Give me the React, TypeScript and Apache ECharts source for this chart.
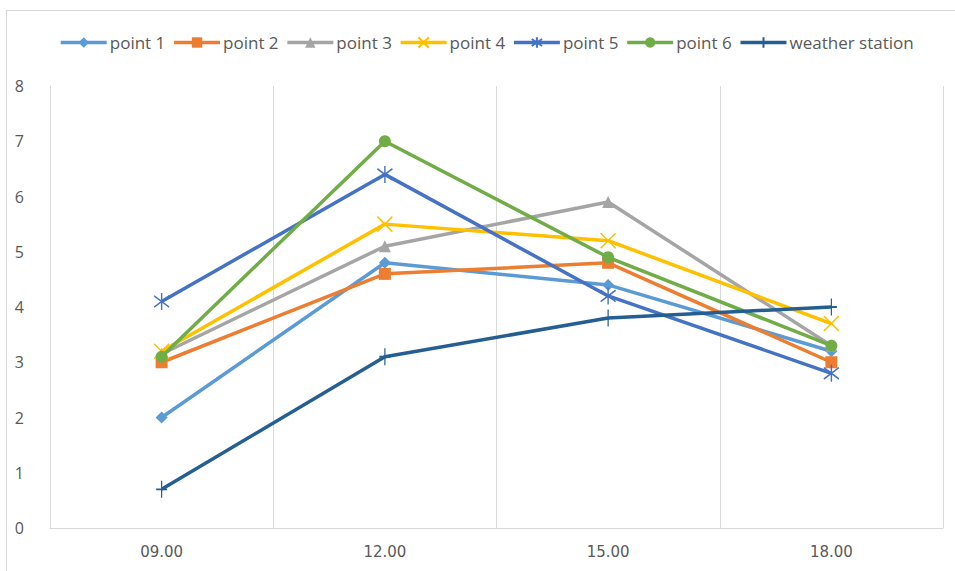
import React, { useEffect, useRef } from "react";
import * as echarts from "echarts";

const categories = ["09.00", "12.00", "15.00", "18.00"];
const seriesNames = ["point 1", "point 2", "point 3", "point 4", "point 5", "point 6", "weather station"];
const point1 = [2.0, 4.8, 4.4, 3.2];
const point2 = [3.0, 4.6, 4.8, 3.0];
const point3 = [3.15, 5.1, 5.9, 3.3];
const point4 = [3.2, 5.5, 5.2, 3.7];
const point5 = [4.1, 6.4, 4.2, 2.8];
const point6 = [3.1, 7.0, 4.9, 3.3];
const weatherStation = [0.7, 3.1, 3.8, 4.0];
const yTicks = [0, 1, 2, 3, 4, 5, 6, 7, 8];

const colors = ["#5B9BD5", "#ED7D31", "#A5A5A5", "#FFC000", "#4472C4", "#70AD47", "#255E91"];

const SYM_X = "path://M0,0L10,10M10,0L0,10";
const SYM_STAR = "path://M0,2L10,10M10,2L0,10M5,0L5,12";
const SYM_PLUS = "path://M5,0L5,14M1,7L9,7";

export default function App() {
  const ref = useRef<HTMLDivElement>(null);
  useEffect(() => {
    if (!ref.current) return;
    const chart = echarts.init(ref.current, undefined, { renderer: "svg" });
    const data = [point1, point2, point3, point4, point5, point6, weatherStation];
    const symbols = ["diamond", "rect", "triangle", SYM_X, SYM_STAR, "circle", SYM_PLUS];
    const sizes: any[] = [12, 12, 12, [15, 15], [15, 17], 12, [11, 17]];
    const stroked = [false, false, false, true, true, false, true];
    const series = seriesNames.map((name, i) => ({
      name,
      type: "line",
      data: data[i],
      symbol: symbols[i],
      symbolSize: sizes[i],
      showSymbol: true,
      lineStyle: { color: colors[i], width: 3.5 },
      itemStyle: stroked[i]
        ? { color: "rgba(0,0,0,0)", borderColor: colors[i], borderWidth: 1.5 }
        : { color: colors[i], borderWidth: 0 },
      z: 2 + i,
    }));
    chart.setOption({
      animation: false,
      color: colors,
      graphic: [
        { type: "line", shape: { x1: 6.5, y1: 10, x2: 6.5, y2: 571 }, style: { stroke: "#d9d9d9", lineWidth: 1 } },
        { type: "line", shape: { x1: 6, y1: 10.5, x2: 955, y2: 10.5 }, style: { stroke: "#d9d9d9", lineWidth: 1 } },
      ],
      legend: {
        top: 29,
        left: 54,
        itemWidth: 46,
        itemHeight: 13,
        itemGap: 7,
        lineStyle: { width: 3.5 },
        textStyle: { fontSize: 17, color: "#595959", fontFamily: "Open Sans", padding: [0, 0, 0, -2] },
        data: seriesNames,
      },
      grid: { left: 50, right: 12, top: 86, bottom: 43 },
      xAxis: {
        type: "category",
        data: categories,
        boundaryGap: true,
        axisLine: { show: true, lineStyle: { color: "#d9d9d9" } },
        axisTick: { show: false },
        splitLine: { show: true, lineStyle: { color: "#d9d9d9", width: 1 } },
        axisLabel: { fontSize: 15, color: "#595959", margin: 16, fontFamily: "DejaVu Sans" },
      },
      yAxis: {
        type: "value",
        min: yTicks[0],
        max: yTicks[yTicks.length - 1],
        interval: 1,
        axisLine: { show: true, lineStyle: { color: "#d9d9d9" } },
        axisTick: { show: false },
        splitLine: { show: false },
        axisLabel: { fontSize: 16, color: "#595959", margin: 26, fontFamily: "Open Sans" },
      },
      series,
    });
    return () => chart.dispose();
  }, []);
  return <div ref={ref} style={{ width: 955, height: 571, position: "absolute", left: 0, top: 0, background: "#fff" }} />;
}
